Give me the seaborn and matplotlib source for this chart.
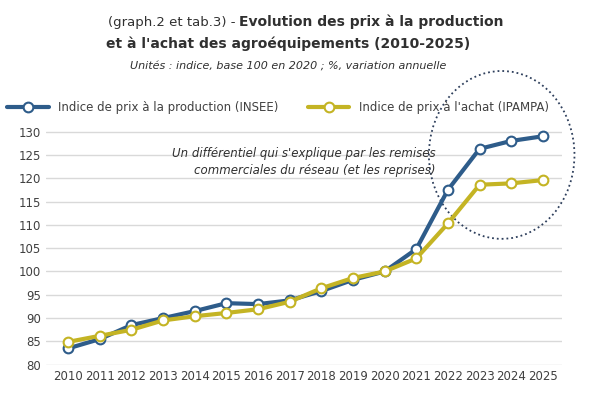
import numpy as np
import pandas as pd
import seaborn as sns
import matplotlib.pyplot as plt
from matplotlib.patches import Ellipse
from matplotlib.lines import Line2D

years = list(range(2010, 2026))
insee = [83.5, 85.5, 88.5, 90.0, 91.5, 93.2, 93.0, 93.8, 95.8, 98.2, 100.0, 104.8, 117.5, 126.3, 128.0, 129.0]
ipampa = [84.9, 86.2, 87.5, 89.5, 90.4, 91.1, 91.9, 93.5, 96.4, 98.6, 100.0, 102.8, 110.3, 118.6, 118.9, 119.6]
yticks = list(range(80, 131, 5))

lab_insee = "Indice de prix à la production (INSEE)"
lab_ipampa = "Indice de prix à l'achat (IPAMPA)"
colors = ["#2e5c8a", "#c4b424"]
df = pd.DataFrame({"année": years * 2,
                   "indice": insee + ipampa,
                   "série": [lab_insee] * len(years) + [lab_ipampa] * len(years)})

sns.set_theme(style="white")
plt.rcParams['font.family'] = ['DejaVu Sans']

fig = plt.figure(figsize=(6.14, 4.03), dpi=100)
ax = fig.add_axes([0.075, 0.095, 0.84, 0.59])

sns.lineplot(data=df, x="année", y="indice", hue="série", palette=colors,
             linewidth=3, marker="o", markersize=7, markerfacecolor="white",
             markeredgewidth=1.5, ax=ax, legend=False)
for l, c in zip(ax.lines, colors):
    l.set_markeredgecolor(c)

ax.set_xlim(2009.3, 2025.6)
ax.set_ylim(80, 131)
ax.set_yticks(yticks)
ax.set_xticks(years)
ax.yaxis.grid(True, color="#d9d9d9", linewidth=1)
for s in ax.spines.values():
    s.set_visible(False)
ax.tick_params(axis="both", labelsize=8.5, colors="#404040", length=0)
ax.set_xlabel("")
ax.set_ylabel("")

handles = [Line2D([], [], color=c, linewidth=3, marker="o", markersize=7,
                  markerfacecolor="white", markeredgecolor=c, markeredgewidth=1.5)
           for c in colors]
leg = ax.legend(handles, [lab_insee, lab_ipampa], loc="lower center",
                bbox_to_anchor=(0.45, 1.01), ncol=2, frameon=False,
                fontsize=8.5, handlelength=3.5, columnspacing=2.5)
for t in leg.get_texts():
    t.set_color("#404040")

ax.text(2021.6, 123.5, "Un différentiel qui s'explique par les remises\ncommerciales du réseau (et les reprises)",
        ha="right", va="center", fontsize=8.5, style="italic", color="#303030", linespacing=1.4)
ax.add_patch(Ellipse((2023.7, 125), 4.6, 36, fill=False, linestyle=":",
                     edgecolor="#2e3f5c", linewidth=1.3, clip_on=False))

fig.text(0.39, 0.935, "(graph.2 et tab.3) - ", ha="right", fontsize=9.5, color="#303030")
fig.text(0.39, 0.935, "Evolution des prix à la production", ha="left", fontsize=10, weight="bold", color="#303030")
fig.text(0.47, 0.88, "et à l'achat des agroéquipements (2010-2025)", ha="center", fontsize=10,
         weight="bold", color="#303030")
fig.text(0.47, 0.83, "Unités : indice, base 100 en 2020 ; %, variation annuelle", ha="center",
         fontsize=8, style="italic", color="#303030")

fig.savefig("out.png", dpi=100)
